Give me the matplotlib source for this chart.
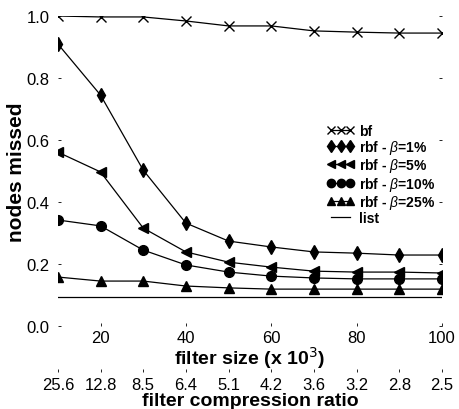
import numpy as np
import matplotlib.pyplot as plt

plt.rcParams['font.family'] = ['Liberation Sans', 'DejaVu Sans']
plt.rcParams['mathtext.fontset'] = 'custom'
plt.rcParams['mathtext.it'] = 'Liberation Sans:italic'

filter_size = [10, 20, 30, 40, 50, 60, 70, 80, 90, 100]
ratio_labels = ['25.6', '12.8', '8.5', '6.4', '5.1', '4.2', '3.6', '3.2', '2.8', '2.5']

bf = [1.0, 0.997, 0.997, 0.984, 0.968, 0.968, 0.952, 0.948, 0.945, 0.945]
rbf_1 = [0.91, 0.745, 0.503, 0.332, 0.274, 0.255, 0.239, 0.235, 0.229, 0.229]
rbf_5 = [0.561, 0.497, 0.316, 0.239, 0.206, 0.19, 0.177, 0.174, 0.174, 0.171]
rbf_10 = [0.342, 0.323, 0.245, 0.197, 0.174, 0.161, 0.155, 0.152, 0.152, 0.152]
rbf_25 = [0.158, 0.145, 0.145, 0.129, 0.123, 0.119, 0.119, 0.119, 0.119, 0.119]
list_val = [0.094] * len(filter_size)

fig = plt.figure(figsize=(4.59, 4.10), dpi=100)
ax = fig.add_axes([0.126, 0.2024, 0.837, 0.7561])

lw = 0.9
ax.plot(filter_size, bf, c='k', lw=lw, marker='x', ms=7, mew=1.0, label='bf')
ax.plot(filter_size, rbf_1, c='k', lw=lw, marker='d', ms=7.5, label=r'rbf - $\mathit{\beta}$=1%')
ax.plot(filter_size, rbf_5, c='k', lw=lw, marker='<', ms=7, label=r'rbf - $\mathit{\beta}$=5%')
ax.plot(filter_size, rbf_10, c='k', lw=lw, marker='o', ms=7, label=r'rbf - $\mathit{\beta}$=10%')
ax.plot(filter_size, rbf_25, c='k', lw=lw, marker='^', ms=7, label=r'rbf - $\mathit{\beta}$=25%')
ax.plot(filter_size, list_val, c='k', lw=lw, label='list')

ax.set_xlim(10, 100)
ax.set_ylim(0, 1.0)
ax.set_xticks([20, 40, 60, 80, 100])
ax.set_yticks([0.0, 0.2, 0.4, 0.6, 0.8, 1.0])
ax.set_yticklabels(['0.0', '0.2', '0.4', '0.6', '0.8', '1.0'])
for s in ax.spines.values():
    s.set_visible(False)
ax.tick_params(axis='both', labelsize=12, length=2, width=0.6, direction='in',
               top=True, right=True, pad=6)
ax.tick_params(axis='x', pad=3)

ax.set_ylabel('nodes missed', fontsize=15, fontweight='bold', labelpad=0)
ax.set_xlabel(r'filter size (x 10$^3$)', fontsize=14, fontweight='bold', labelpad=0)

ax2 = ax.twiny()
ax2.set_xlim(10, 100)
ax2.xaxis.set_ticks_position('bottom')
ax2.xaxis.set_label_position('bottom')
ax2.spines['bottom'].set_position(('outward', 33))
for s in ax2.spines.values():
    s.set_visible(False)
ax2.set_xticks(filter_size)
ax2.set_xticklabels(ratio_labels)
ax2.tick_params(axis='x', labelsize=12, length=2, width=0.6, direction='in', pad=4)
ax2.set_xlabel('filter compression ratio', fontsize=14, fontweight='bold', labelpad=0)

leg = ax.legend(loc='upper left', bbox_to_anchor=(0.682, 0.675), frameon=False,
                numpoints=3, fontsize=10, handlelength=2.0, handletextpad=0.3,
                labelspacing=0.02, borderpad=0)
for t in leg.get_texts():
    t.set_fontweight('bold')
for h in leg.legend_handles:
    h.set_markersize(6)

fig.savefig('out.png', dpi=100)
